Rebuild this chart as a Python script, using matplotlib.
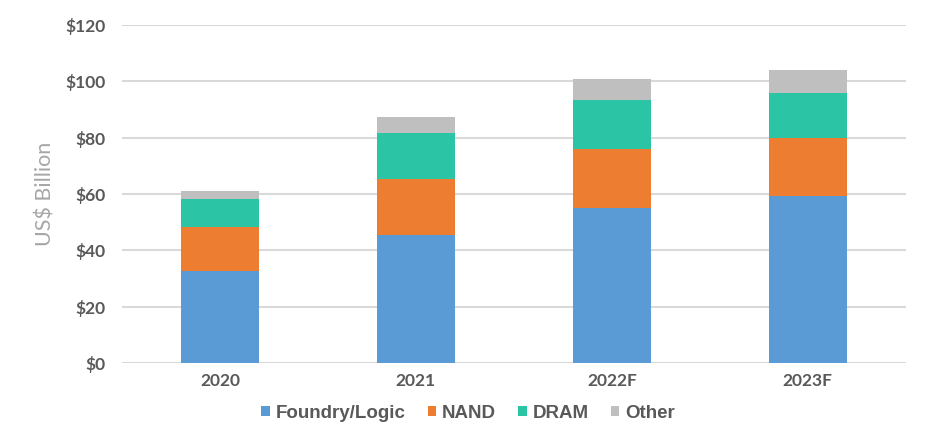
import matplotlib.pyplot as plt
import numpy as np

years = ["2020", "2021", "2022F", "2023F"]
foundry_logic = [32.8, 45.5, 55.0, 59.3]
nand = [15.4, 19.8, 20.8, 20.4]
dram = [10.1, 16.3, 17.5, 16.2]
other = [2.8, 5.7, 7.4, 8.0]

series = [
    ("Foundry/Logic", foundry_logic, "#5b9bd5"),
    ("NAND", nand, "#ed7d31"),
    ("DRAM", dram, "#2bc4a5"),
    ("Other", other, "#bfbfbf"),
]

text_color = "#595959"

fig = plt.figure(figsize=(9.29, 4.43), dpi=100)
ax = fig.add_axes([0.1313, 0.1806, 0.8437, 0.763])

x = np.arange(len(years))
bottom = np.zeros(len(years))
for name, vals, col in series:
    ax.bar(x, vals, 0.40, bottom=bottom, color=col, label=name, zorder=3)
    bottom += np.array(vals)

ax.set_xlim(-0.5, len(years) - 0.5)
ax.set_ylim(0, 120)
ax.set_yticks(range(0, 121, 20))
ax.set_yticklabels(["$%d" % v for v in range(0, 121, 20)])
ax.set_xticks(x)
ax.set_xticklabels(years)
ax.yaxis.grid(True, color="#d9d9d9", linewidth=1.5, zorder=0)
ax.set_axisbelow(True)
for s in ax.spines.values():
    s.set_visible(False)
ax.tick_params(length=0, labelcolor=text_color)
for lab in ax.get_yticklabels() + ax.get_xticklabels():
    lab.set_fontfamily("Lato")
    lab.set_fontweight("bold")
    lab.set_fontsize(12.5)
ax.tick_params(axis="y", pad=12)
ax.tick_params(axis="x", pad=7)

ax.set_ylabel("US$ Billion", fontsize=15.5, color="#a6a6a6", family="Lato", labelpad=7)

fig.legend(loc="center", bbox_to_anchor=(468 / 929, 1 - 413 / 443), ncol=4, frameon=False,
           prop={"family": "Liberation Sans", "weight": "bold", "size": 13.5},
           labelcolor=text_color, handlelength=0.45, handleheight=0.45,
           handletextpad=0.3, columnspacing=1.2)

fig.savefig("out.png", dpi=100)
